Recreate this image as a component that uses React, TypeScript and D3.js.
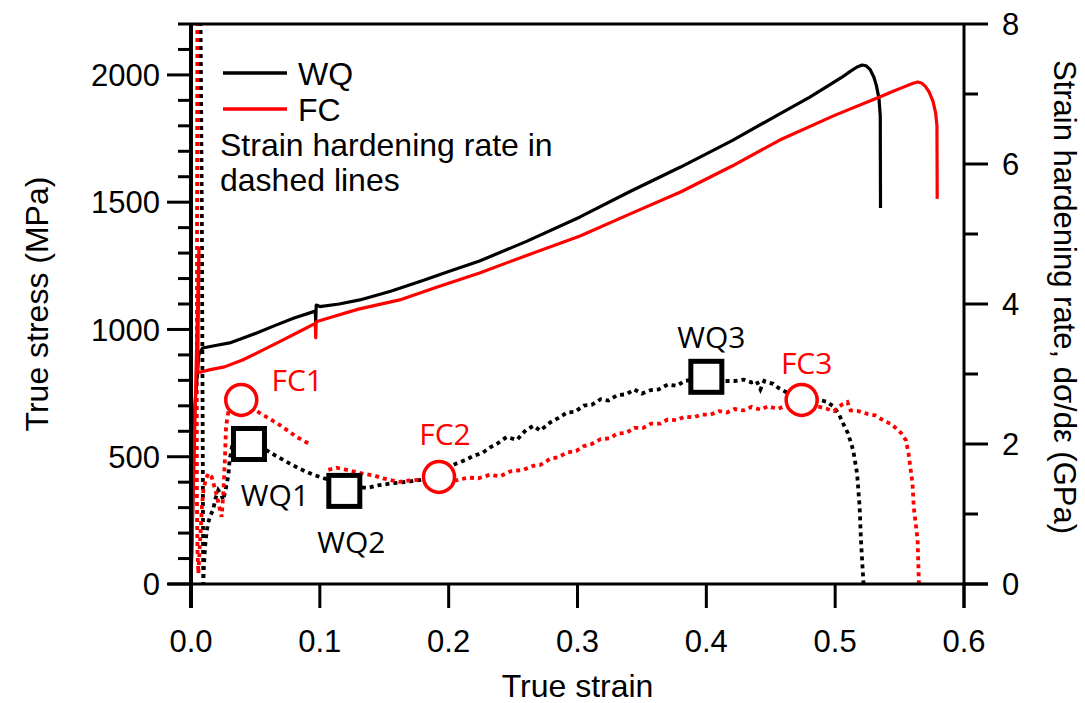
import React from "react";
import * as d3 from "d3";

// ---------- DATA ----------
// True stress (MPa) vs true strain
const wqStress: [number, number][] = [
  [0.0, 0], [0.003, 700], [0.006, 900], [0.009, 927], [0.02, 938], [0.03, 947],
  [0.04, 965], [0.051, 986], [0.065, 1015], [0.08, 1045], [0.0965, 1072],
  [0.0968, 1030], [0.0972, 1096], [0.1, 1090], [0.115, 1100], [0.131, 1116],
  [0.155, 1150], [0.18, 1192], [0.2, 1228], [0.224, 1269], [0.26, 1345],
  [0.302, 1442], [0.34, 1540], [0.38, 1638], [0.42, 1742], [0.457, 1847],
  [0.48, 1912], [0.496, 1962], [0.505, 1990], [0.512, 2015], [0.517, 2031],
  [0.521, 2039], [0.524, 2036], [0.527, 2022], [0.53, 1992], [0.532, 1958],
  [0.534, 1908], [0.535, 1840], [0.5352, 1477],
];
const fcStress: [number, number][] = [
  [0.0, 0], [0.0062, 1320], [0.0052, 830], [0.015, 842], [0.026, 853],
  [0.04, 880], [0.051, 907], [0.07, 955], [0.085, 994], [0.0965, 1024],
  [0.0968, 968], [0.0972, 1030], [0.11, 1050], [0.13, 1080], [0.162, 1116],
  [0.19, 1165], [0.224, 1222], [0.26, 1290], [0.302, 1367], [0.34, 1452],
  [0.38, 1540], [0.42, 1642], [0.457, 1744], [0.5, 1842], [0.535, 1914],
  [0.545, 1936], [0.553, 1952], [0.56, 1966], [0.564, 1972], [0.567, 1968],
  [0.57, 1955], [0.573, 1932], [0.576, 1895], [0.578, 1850], [0.579, 1800],
  [0.5792, 1513],
];

// Strain hardening rate (GPa) vs true strain
const wqRate: [number, number][] = [
  [0.0072, 8.6], [0.008, 6.5], [0.0085, 5.0], [0.0088, 3.5], [0.0091, 2.0],
  [0.0093, 1.0], [0.0095, 0.0], [0.01, 0.25], [0.011, 0.55], [0.012, 0.72],
  [0.013, 0.85], [0.015, 0.98], [0.017, 1.05], [0.019, 1.22], [0.0212, 1.34],
  [0.0235, 1.28], [0.025, 1.2], [0.027, 1.36], [0.029, 1.55], [0.03, 1.77],
  [0.032, 1.98], [0.035, 2.12], [0.04, 2.1], [0.045, 2.05], [0.052, 1.98],
  [0.0587, 1.91], [0.065, 1.84], [0.0768, 1.72], [0.085, 1.64], [0.095, 1.56],
  [0.105, 1.5], [0.115, 1.44], [0.125, 1.4], [0.1364, 1.37], [0.145, 1.41],
  [0.157, 1.44], [0.168, 1.46], [0.179, 1.49], [0.19, 1.56], [0.199, 1.66],
  [0.206, 1.72], [0.213, 1.77], [0.219, 1.83], [0.226, 1.87], [0.232, 1.95],
  [0.238, 2.01], [0.245, 2.1], [0.253, 2.06], [0.26, 2.2], [0.266, 2.26],
  [0.271, 2.19], [0.279, 2.31], [0.285, 2.37], [0.292, 2.45], [0.298, 2.46],
  [0.305, 2.55], [0.311, 2.56], [0.318, 2.64], [0.324, 2.62], [0.331, 2.7],
  [0.338, 2.71], [0.344, 2.78], [0.35, 2.72], [0.357, 2.77], [0.363, 2.78],
  [0.37, 2.85], [0.377, 2.83], [0.383, 2.9], [0.39, 2.92], [0.4, 2.94],
  [0.41, 2.9], [0.422, 2.9], [0.429, 2.92], [0.435, 2.88], [0.439, 2.9],
  [0.442, 2.78], [0.445, 2.9], [0.448, 2.88], [0.452, 2.86], [0.456, 2.8],
  [0.462, 2.74], [0.47, 2.7], [0.48, 2.66], [0.488, 2.63], [0.494, 2.6],
  [0.499, 2.53], [0.503, 2.42], [0.506, 2.3], [0.51, 2.15], [0.514, 1.91],
  [0.517, 1.58], [0.519, 1.1], [0.52, 0.63], [0.522, 0.0],
];
const fcRateA: [number, number][] = [
  [0.005, 8.6], [0.0048, 6.0], [0.0046, 4.0], [0.0045, 2.5], [0.0046, 1.2],
  [0.005, 0.5], [0.0057, 0.15], [0.007, 0.6], [0.0085, 1.1], [0.0096, 1.34],
  [0.0115, 1.5], [0.0135, 1.58], [0.016, 1.53], [0.018, 1.4], [0.0199, 1.27],
  [0.022, 1.1], [0.0238, 0.96], [0.0251, 1.3], [0.0264, 1.82], [0.0272, 2.25],
  [0.029, 2.46], [0.032, 2.56], [0.039, 2.6], [0.045, 2.55], [0.0536, 2.44],
  [0.061, 2.36], [0.069, 2.27], [0.076, 2.18], [0.082, 2.1], [0.088, 2.04],
  [0.093, 1.99],
];
const fcRateB: [number, number][] = [
  [0.1066, 1.63], [0.113, 1.66], [0.121, 1.63], [0.128, 1.6], [0.135, 1.57],
  [0.142, 1.55], [0.149, 1.51], [0.156, 1.48], [0.162, 1.46], [0.17, 1.48],
  [0.18, 1.49], [0.192, 1.5], [0.206, 1.48], [0.215, 1.52], [0.223, 1.51],
  [0.232, 1.56], [0.24, 1.54], [0.248, 1.61], [0.258, 1.63], [0.266, 1.69],
  [0.271, 1.7], [0.279, 1.79], [0.285, 1.81], [0.292, 1.88], [0.299, 1.9],
  [0.305, 1.97], [0.311, 2.0], [0.318, 2.07], [0.325, 2.08], [0.331, 2.15],
  [0.338, 2.16], [0.344, 2.23], [0.351, 2.23], [0.357, 2.29], [0.364, 2.29],
  [0.37, 2.35], [0.377, 2.34], [0.383, 2.39], [0.39, 2.38], [0.396, 2.42],
  [0.403, 2.42], [0.41, 2.47], [0.416, 2.45], [0.422, 2.5], [0.429, 2.48],
  [0.435, 2.53], [0.442, 2.49], [0.448, 2.54], [0.455, 2.5], [0.461, 2.54],
  [0.47, 2.55], [0.48, 2.54], [0.488, 2.53], [0.494, 2.5], [0.499, 2.47],
  [0.505, 2.56], [0.5095, 2.6], [0.512, 2.48], [0.518, 2.47], [0.525, 2.43],
  [0.531, 2.41], [0.538, 2.33], [0.544, 2.28], [0.551, 2.16], [0.555, 2.05],
  [0.557, 1.86], [0.56, 1.44], [0.561, 1.1], [0.564, 0.63], [0.565, 0.0],
];

const wqMarkers = [
  { label: "WQ1", strain: 0.045, rate: 2.0 },
  { label: "WQ2", strain: 0.119, rate: 1.33 },
  { label: "WQ3", strain: 0.4, rate: 2.96 },
];
const fcMarkers = [
  { label: "FC1", strain: 0.039, rate: 2.63 },
  { label: "FC2", strain: 0.1925, rate: 1.53 },
  { label: "FC3", strain: 0.474, rate: 2.63 },
];

const xTicks = [0, 0.1, 0.2, 0.3, 0.4, 0.5, 0.6];
const yLeftTicks = [0, 500, 1000, 1500, 2000];
const yRightTicks = [0, 2, 4, 6, 8];

// ---------- LAYOUT ----------
const W = 1085, H = 703;
const L = 191, R = 964, T = 24, B = 584;
const labelOffsets: Record<string, [number, number]> = {
  WQ1: [26, 62], WQ2: [7, 62], WQ3: [5, -29],
  FC1: [56, -9], FC2: [6, -32], FC3: [5, -26],
};
const AXIS_FONT = "'Liberation Sans', Arial, Helvetica, sans-serif";
const ANN_FONT = "'Open Sans', 'Liberation Sans', sans-serif";

export default function App() {
  const x = d3.scaleLinear().domain([0, 0.6]).range([L, R]);
  const yL = d3.scaleLinear().domain([0, 2200]).range([B, T]);
  const yR = d3.scaleLinear().domain([0, 8]).range([B, T]);

  const stressLine = d3.line<[number, number]>().x((d) => x(d[0])).y((d) => yL(d[1]));
  const rateLine = d3.line<[number, number]>().x((d) => x(d[0])).y((d) => yR(d[1]));

  const leftMinor = d3.range(0, 2201, 100).filter((v) => v % 500 !== 0);
  const rightMinor = [1, 3, 5, 7];
  const dash = "4 4";

  return (
    <svg width={W} height={H} style={{ position: "absolute", left: 0, top: 0, background: "#fff" }}>
      <defs>
        <clipPath id="plotClip">
          <rect x={L} y={T} width={R - L} height={B - T} />
        </clipPath>
      </defs>
      <rect x={0} y={0} width={W} height={H} fill="#fff" />

      <g clipPath="url(#plotClip)" fill="none">
        <path d={rateLine(wqRate) || ""} stroke="#000" strokeWidth={3.8} strokeDasharray={dash} />
        <path d={rateLine(fcRateA) || ""} stroke="#ff0000" strokeWidth={3.8} strokeDasharray={dash} />
        <path d={rateLine(fcRateB) || ""} stroke="#ff0000" strokeWidth={3.8} strokeDasharray={dash} />
        <path d={stressLine(wqStress) || ""} stroke="#000" strokeWidth={3.2} strokeLinejoin="round" />
        <path d={stressLine(fcStress) || ""} stroke="#ff0000" strokeWidth={3.2} strokeLinejoin="round" />
      </g>

      {/* frame */}
      <g stroke="#000" strokeWidth={3} fill="none">
        <line x1={L} y1={T} x2={R} y2={T} />
        <line x1={L - 23} y1={B} x2={R + 24} y2={B} />
        <line x1={R} y1={T} x2={R} y2={B + 24} />
        <line x1={L} y1={T} x2={L} y2={B + 24} strokeWidth={4} />
      </g>

      {/* ticks */}
      <g stroke="#000" strokeWidth={3}>
        {yLeftTicks.map((v) => (
          <line key={"lm" + v} x1={L - 24} x2={L} y1={yL(v)} y2={yL(v)} />
        ))}
        {leftMinor.map((v) => (
          <line key={"ln" + v} x1={L - 13} x2={L} y1={yL(v)} y2={yL(v)} />
        ))}
        {yRightTicks.map((v) => (
          <line key={"rm" + v} x1={R} x2={R + 24} y1={yR(v)} y2={yR(v)} />
        ))}
        {rightMinor.map((v) => (
          <line key={"rn" + v} x1={R} x2={R + 14} y1={yR(v)} y2={yR(v)} />
        ))}
        {xTicks.map((v) => (
          <line key={"x" + v} x1={x(v)} x2={x(v)} y1={B} y2={B + 24} />
        ))}
      </g>

      <g fontFamily={AXIS_FONT} fontSize={31} fill="#000">
        {yLeftTicks.map((v) => (
          <text key={"lt" + v} x={160} y={yL(v)} dy="0.36em" textAnchor="end">{v}</text>
        ))}
        {yRightTicks.map((v) => (
          <text key={"rt" + v} x={1002} y={yR(v)} dy="0.36em" textAnchor="start">{v}</text>
        ))}
        {xTicks.map((v) => (
          <text key={"xt" + v} x={x(v)} y={652} textAnchor="middle">{v.toFixed(1)}</text>
        ))}
      </g>

      {/* axis titles */}
      <g fontFamily={AXIS_FONT} fill="#000">
        <text x={(L + R) / 2} y={697} textAnchor="middle" fontSize={32}>True strain</text>
        <text transform={`translate(48, ${(T + B) / 2}) rotate(-90)`} textAnchor="middle" fontSize={32}>True stress (MPa)</text>
        <text transform={`translate(1054, ${(T + B) / 2 - 7}) rotate(90)`} textAnchor="middle" fontSize={31}>Strain hardening rate, dσ/dε (GPa)</text>
      </g>

      {/* legend */}
      <g>
        <line x1={223} x2={287} y1={73} y2={73} stroke="#000" strokeWidth={3.5} />
        <line x1={223} x2={287} y1={109} y2={109} stroke="#ff0000" strokeWidth={3.5} />
        <g fontFamily={AXIS_FONT} fontSize={32} fill="#000">
          <text x={298} y={85}>WQ</text>
          <text x={298} y={121}>FC</text>
          <text x={220} y={156}>Strain hardening rate in</text>
          <text x={220} y={191}>dashed lines</text>
        </g>
      </g>

      {/* markers */}
      <g>
        {wqMarkers.map((m) => (
          <rect key={m.label} x={x(m.strain) - 15.5} y={yR(m.rate) - 15.5} width={31} height={31}
            fill="#fff" stroke="#000" strokeWidth={5} />
        ))}
        {fcMarkers.map((m) => (
          <circle key={m.label} cx={x(m.strain)} cy={yR(m.rate)} r={15.5}
            fill="#fff" stroke="#ff0000" strokeWidth={3.5} />
        ))}
      </g>
      <g fontFamily={ANN_FONT} fontSize={30} textAnchor="middle">
        {wqMarkers.map((m) => (
          <text key={m.label} x={x(m.strain) + labelOffsets[m.label][0]} y={yR(m.rate) + labelOffsets[m.label][1]} fill="#000">{m.label}</text>
        ))}
        {fcMarkers.map((m) => (
          <text key={m.label} x={x(m.strain) + labelOffsets[m.label][0]} y={yR(m.rate) + labelOffsets[m.label][1]} fill="#ff0000">{m.label}</text>
        ))}
      </g>
    </svg>
  );
}
